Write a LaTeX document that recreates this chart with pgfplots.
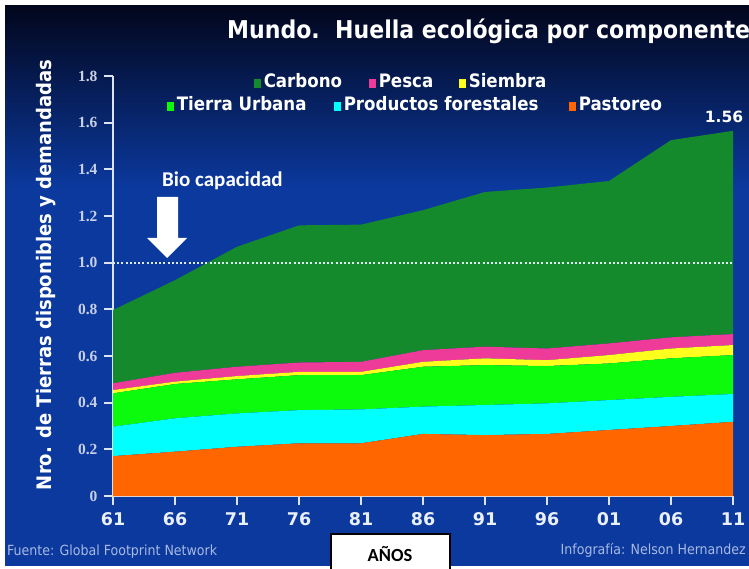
\documentclass[border=0pt]{standalone}
\usepackage{pgfplots}
\pgfplotsset{compat=1.18}
\usepackage{fontspec}
\setmainfont{DejaVu Sans}
\newfontfamily\cond{DejaVu Sans Condensed}
\newfontfamily\dvs{DejaVu Sans}
\newfontfamily\lserif{Liberation Serif}
\newfontfamily\carl{Carlito}
\definecolor{carb}{HTML}{148A2D}
\definecolor{pesc}{HTML}{EE3A98}
\definecolor{siem}{HTML}{FFFF1E}
\definecolor{urba}{HTML}{0CFA0C}
\definecolor{fore}{HTML}{00FFFF}
\definecolor{past}{HTML}{FF6600}
\definecolor{bgtop}{HTML}{02061C}
\definecolor{bgmid}{HTML}{0B399E}
\definecolor{axcol}{HTML}{DCE4F2}
\definecolor{ylab}{HTML}{C8D0E4}
\definecolor{xlab}{HTML}{EAF0FA}
\definecolor{foot}{HTML}{A9B9E2}
\definecolor{dotc}{HTML}{DDEBF2}
\begin{document}
\begin{tikzpicture}[x=1pt,y=1pt]
\path[use as bounding box] (0,0) rectangle (749,568);
\fill[white] (0,0) rectangle (749,568);
\shade[top color=bgtop, bottom color=bgmid] (5,562) rectangle (749,380);
\fill[bgmid] (5,380.5) rectangle (749,2);
\begin{axis}[
  at={(113pt,72pt)}, anchor=south west,
  scale only axis, width=620pt, height=420pt,
  xmin=1961, xmax=2011, ymin=0, ymax=1.8,
  stack plots=y,
  axis x line*=bottom, axis y line*=left,
  axis line style={draw=axcol, line width=1.8pt},
  tick align=outside, major tick length=9pt,
  tick style={draw=axcol, line width=1.8pt},
  xtick={1961,1966,1971,1976,1981,1986,1991,1996,2001,2006,2011},
  xticklabels={61,66,71,76,81,86,91,96,01,06,11},
  ytick={0,0.2,0.4,0.6,0.8,1.0,1.2,1.4,1.6,1.8},
  yticklabels={0,0.2,0.4,0.6,0.8,1.0,1.2,1.4,1.6,1.8},
  xticklabel style={font=\dvs\bfseries\fontsize{17.5}{19}\selectfont, text=xlab, yshift=-4pt},
  yticklabel style={font=\lserif\bfseries\fontsize{15.5}{17}\selectfont, text=ylab, xshift=-3pt},
  /pgf/number format/assume math mode=true,
  clip=false,
]
\addplot[fill=past, draw=none] coordinates {(1961,0.171)(1966,0.190)(1971,0.211)(1976,0.226)(1981,0.226)(1986,0.266)(1991,0.261)(1996,0.266)(2001,0.283)(2006,0.300)(2011,0.318)} \closedcycle;
\addplot[fill=fore, draw=none] coordinates {(1961,0.126)(1966,0.143)(1971,0.143)(1976,0.142)(1981,0.145)(1986,0.117)(1991,0.129)(1996,0.131)(2001,0.128)(2006,0.125)(2011,0.119)} \closedcycle;
\addplot[fill=urba, draw=none] coordinates {(1961,0.143)(1966,0.147)(1971,0.146)(1976,0.150)(1981,0.147)(1986,0.171)(1991,0.171)(1996,0.160)(2001,0.157)(2006,0.165)(2011,0.167)} \closedcycle;
\addplot[fill=siem, draw=none] coordinates {(1961,0.014)(1966,0.010)(1971,0.014)(1976,0.014)(1981,0.014)(1986,0.021)(1991,0.029)(1996,0.025)(2001,0.036)(2006,0.042)(2011,0.043)} \closedcycle;
\addplot[fill=pesc, draw=none] coordinates {(1961,0.029)(1966,0.038)(1971,0.040)(1976,0.040)(1981,0.043)(1986,0.050)(1991,0.050)(1996,0.050)(2001,0.050)(2006,0.048)(2011,0.047)} \closedcycle;
\addplot[fill=carb, draw=none] coordinates {(1961,0.314)(1966,0.397)(1971,0.514)(1976,0.588)(1981,0.588)(1986,0.600)(1991,0.663)(1996,0.690)(2001,0.696)(2006,0.845)(2011,0.871)} \closedcycle;
\end{axis}
% Bio capacidad reference line at y = 1.0
\draw[dotc, line width=2pt, dash pattern=on 2pt off 2.2pt] (113,305.33) -- (733,305.33);
% annotations
\fill[white] (157,371) -- (178,371) -- (178,330) -- (187,330) -- (167,310) -- (147,330) -- (157,330) -- cycle;
\node[anchor=west, text=white, inner sep=0pt, font=\carl\bfseries\fontsize{21}{24}\selectfont] at (162,387) {Bio capacidad};
\node[anchor=west, text=white, inner sep=0pt, font=\cond\bfseries\fontsize{24.5}{28}\selectfont] at (227,537) {Mundo.\ \ Huella ecológica por componente};
\node[text=white, inner sep=0pt, font=\dvs\bfseries\fontsize{15.5}{18}\selectfont] at (724,451) {1.56};
\node[rotate=90, text=white, inner sep=0pt, font=\cond\bfseries\fontsize{20}{24}\selectfont] at (46,293) {Nro. de Tierras disponibles y demandadas};
% legend
\begin{scope}[every node/.style={anchor=west, text=white, inner sep=0pt, font=\cond\bfseries\fontsize{18.5}{20}\selectfont}]
\node at (254,487) {\textcolor{carb}{\rule{6.5pt}{8.5pt}}\,Carbono};
\node at (369,487) {\textcolor{pesc}{\rule{6.5pt}{8.5pt}}\,Pesca};
\node at (459,487) {\textcolor{siem}{\rule{6.5pt}{8.5pt}}\,Siembra};
\node at (167,464) {\textcolor{urba}{\rule{6.5pt}{8.5pt}}\,Tierra Urbana};
\node at (334,464) {\textcolor{fore}{\rule{6.5pt}{8.5pt}}\,Productos forestales};
\node at (569,464) {\textcolor{past}{\rule{6.5pt}{8.5pt}}\,Pastoreo};
\end{scope}
% footer
\node[anchor=west, text=foot, inner sep=0pt, font=\cond\fontsize{14}{16}\selectfont] at (7,16) {Fuente: Global Footprint Network};
\node[anchor=east, text=foot, inner sep=0pt, font=\cond\fontsize{14}{16}\selectfont] at (746,18) {Infografía: Nelson Hernandez};
\draw[black, line width=2pt, fill=white] (331,-6) rectangle (450,34);
\node[anchor=base, inner sep=0pt, font=\carl\bfseries\fontsize{18.5}{22}\selectfont] at (390,7) {AÑOS};
\end{tikzpicture}
\end{document}
